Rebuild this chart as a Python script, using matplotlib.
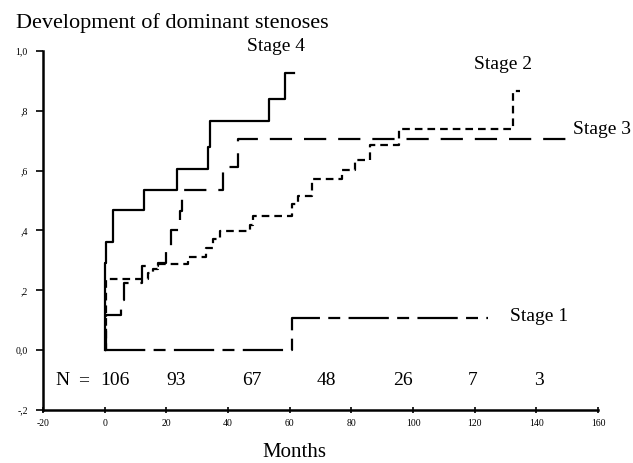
import numpy as np
import matplotlib
matplotlib.use('Agg')
import matplotlib.pyplot as plt

plt.rcParams['font.family'] = ['Liberation Serif', 'DejaVu Serif']
plt.rcParams['lines.scale_dashes'] = False

# cumulative incidence step curves (months, proportion)
stage1_t = [0, 60.9, 124.2]
stage1_v = [0, 0.107, 0.107]

stage2_t = [0, 0.3, 14.0, 15.6, 17.3, 27.0, 32.8, 35.2, 37.4, 47.1, 48.0,
            60.9, 62.6, 67.3, 77.0, 81.1, 86.0, 95.4, 132.4, 134.8]
stage2_v = [0, 0.237, 0.259, 0.27, 0.287, 0.31, 0.34, 0.37, 0.398, 0.417, 0.448,
            0.49, 0.515, 0.573, 0.603, 0.635, 0.687, 0.739, 0.867, 0.867]

stage3_t = [0, 0.5, 5.4, 6.3, 12.2, 17.3, 20.0, 21.5, 24.4, 25.0, 38.3, 43.3, 150.5]
stage3_v = [0, 0.117, 0.167, 0.226, 0.28, 0.29, 0.337, 0.40, 0.465, 0.535, 0.612, 0.707, 0.707]

stage4_t = [0, 0.0, 0.5, 2.8, 12.8, 23.6, 33.4, 34.0, 53.3, 58.4, 61.4]
stage4_v = [0, 0.29, 0.36, 0.47, 0.535, 0.605, 0.68, 0.765, 0.84, 0.925, 0.925]

# numbers at risk
risk_x = [3.3, 23.3, 47.6, 72.0, 96.7, 119.4, 141.0]
risk_n = ['106', '93', '67', '48', '26', '7', '3']

yticks = [-0.2, 0.0, 0.2, 0.4, 0.6, 0.8, 1.0]
ylabels = ['-,2', '0,0', ',2', ',4', ',6', ',8', '1,0']
xticks = [-20, 0, 20, 40, 60, 80, 100, 120, 140, 160]

fig = plt.figure(figsize=(6.33, 4.63), dpi=100)
ax = fig.add_axes([43/633, 53/463, 555/633, 359/463])

lw = 1.6
ax.step(stage4_t, stage4_v, where='post', color='black', lw=lw, linestyle='-')
ax.step(stage3_t, stage3_v, where='post', color='black', lw=lw, linestyle=(0, (16, 8.6)))
ax.step(stage2_t, stage2_v, where='post', color='black', lw=lw, linestyle=(0, (5.5, 3.6)))
ax.step(stage1_t, stage1_v, where='post', color='black', lw=lw, linestyle=(0, (29, 6, 8.6, 6)))

ax.text(55.5, 1.014, 'Stage 4', fontsize=14, ha='center', va='center')
ax.text(129.2, 0.955, 'Stage 2', fontsize=14, ha='center', va='center')
ax.text(152, 0.737, 'Stage 3', fontsize=14, ha='left', va='center')
ax.text(131.6, 0.114, 'Stage 1', fontsize=14, ha='left', va='center')

ax.text(-13.8, -0.102, 'N', fontsize=14, ha='center', va='center')
ax.text(-6.7, -0.102, '=', fontsize=14, ha='center', va='center')
for x, n in zip(risk_x, risk_n):
    ax.text(x, -0.102, n, fontsize=14, ha='center', va='center')

ax.set_xlim(-20, 160)
ax.set_ylim(-0.2, 1.0)
ax.set_xticks(xticks)
ax.set_xticklabels([str(t) for t in xticks], fontsize=7)
ax.set_yticks(yticks)
ax.set_yticklabels(ylabels, fontsize=7)
ax.spines['top'].set_visible(False)
ax.spines['right'].set_visible(False)
ax.spines['left'].set_linewidth(1.8)
ax.spines['bottom'].set_linewidth(1.8)
ax.tick_params(axis='x', direction='inout', length=5, width=1.2, pad=4)
ax.tick_params(axis='y', direction='out', length=5, width=1.2, pad=6)
ax.patch.set_visible(False)

fig.text(16/633, 1 - 28/463, 'Development of dominant stenoses', fontsize=16,
         ha='left', va='baseline')
fig.text(294/633, 1 - 457/463, 'Months', fontsize=15, ha='center', va='baseline')

plt.savefig('out.png', dpi=100)
